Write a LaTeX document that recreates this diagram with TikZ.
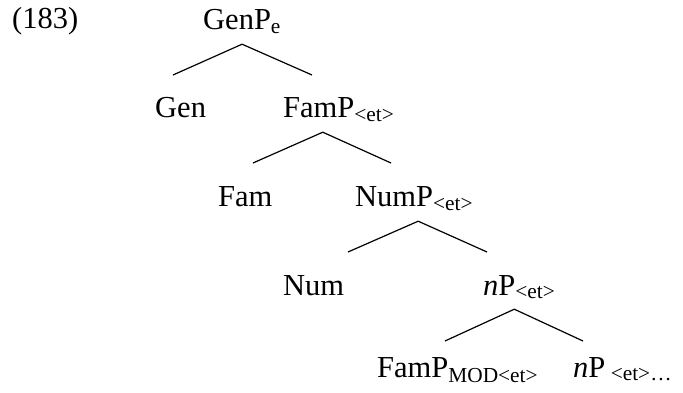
\documentclass[tikz,border=0pt]{standalone}
\usepackage{fontspec}
\setmainfont{Liberation Serif}
\usepackage{tikz}
\usetikzlibrary{calc}

\newcommand{\etsub}{\textsubscript{\textless et\textgreater}}

\begin{document}
\begin{tikzpicture}[x=1pt, y=-1pt,
          cat/.style={anchor=base west, inner sep=0pt, text depth=14pt,
                      font=\fontsize{30.5}{36}\selectfont},
          br/.style={line width=1.2pt}
        ]
        \useasboundingbox (0,0) rectangle (683,393);
        \node[cat] (ex) at (12,29) {(183)};

        % categories, level by level
        \node[cat] (genp)  at (203,30)  {GenP\textsubscript{e}};
        \node[cat] (gen)   at (155,118) {Gen};
        \node[cat] (famp)  at (283,118) {FamP\etsub};
        \node[cat] (fam)   at (218,207) {Fam};
        \node[cat] (nump)  at (355,207) {NumP\etsub};
        \node[cat] (num)   at (283,295) {Num};
        \node[cat] (np)    at (483,295) {\textit{n}P\etsub};
        \node[cat] (fammod) at (377,377) {FamP\textsubscript{MOD\textless et\textgreater}};
        \node[cat] (np2)   at (573,377) {\textit{n}P\textsubscript{\ \textless et\textgreater\ldots}};

        % ends of the branches
        \coordinate (genp-l) at (173,75);
        \coordinate (genp-r) at (312,75);
        \coordinate (famp-l) at (253,163);
        \coordinate (famp-r) at (391,163);
        \coordinate (nump-l) at (348,252);
        \coordinate (nump-r) at (487,252);
        \coordinate (np-l)   at (445,341);
        \coordinate (np-r)   at (583,341);

        \draw[br] (genp-l) -- (genp.south) -- (genp-r);
        \draw[br] (famp-l) -- ([xshift=-16pt]famp.south) -- (famp-r);
        \draw[br] (nump-l) -- ([xshift=4pt]nump.south) -- (nump-r);
        \draw[br] (np-l) -- ([xshift=-5pt]np.south) -- (np-r);
      \end{tikzpicture}
\end{document}
